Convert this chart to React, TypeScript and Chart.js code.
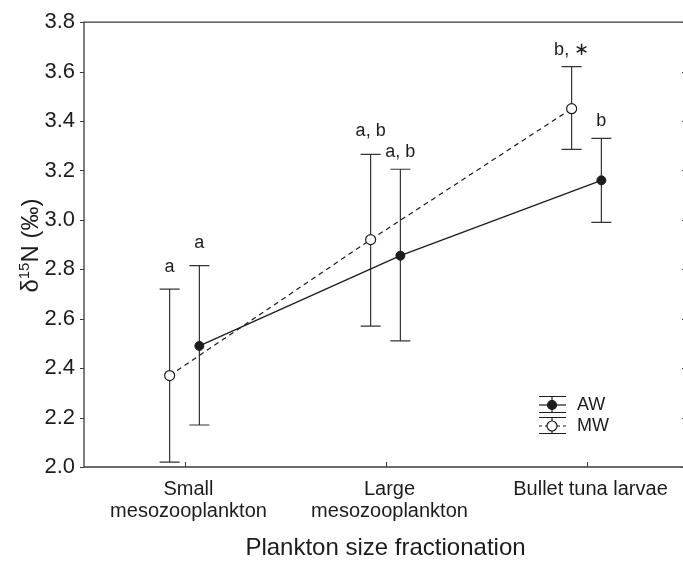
import React, { useEffect, useRef } from "react";
import { Chart, registerables } from "chart.js";

Chart.register(...registerables);

// ---- data ----
const categories: (string | string[])[] = [
  ["Small", "mesozooplankton"],
  ["Large", "mesozooplankton"],
  "Bullet tuna larvae",
];
const seriesNames = ["AW", "MW"];
const awMean = [2.49, 2.855, 3.16];
const awLow = [2.17, 2.51, 2.99];
const awHigh = [2.815, 3.205, 3.33];
const mwMean = [2.37, 2.92, 3.45];
const mwLow = [2.02, 2.57, 3.285];
const mwHigh = [2.72, 3.265, 3.62];
const awLetters = ["a", "a, b", "b"];
const mwLetters = ["a", "a, b", "b, \u2217"];
const yTickValues = [2.0, 2.2, 2.4, 2.6, 2.8, 3.0, 3.2, 3.4, 3.6, 3.8];
const xTitle = "Plankton size fractionation";

// ---- style ----
const FONT = "'Liberation Sans', Arial, Helvetica, sans-serif";
const INK = "#1c1c1c";
const AXIS = "#3a3a3a";
const DODGE = 0.074;
const CAP = 10;

const decor = {
  id: "decor",
  beforeDatasetsDraw(chart: any) {
    const { ctx } = chart;
    const x = chart.scales.x;
    const y = chart.scales.y;
    ctx.save();
    ctx.strokeStyle = "#333";
    ctx.lineWidth = 1.2;
    const bar = (xv: number, lo: number, hi: number) => {
      const px = x.getPixelForValue(xv);
      const pl = y.getPixelForValue(lo);
      const ph = y.getPixelForValue(hi);
      ctx.beginPath();
      ctx.moveTo(px, pl);
      ctx.lineTo(px, ph);
      ctx.moveTo(px - CAP, pl);
      ctx.lineTo(px + CAP, pl);
      ctx.moveTo(px - CAP, ph);
      ctx.lineTo(px + CAP, ph);
      ctx.stroke();
    };
    awMean.forEach((_, i) => bar(i + DODGE, awLow[i], awHigh[i]));
    mwMean.forEach((_, i) => bar(i - DODGE, mwLow[i], mwHigh[i]));
    ctx.restore();
  },
  afterDraw(chart: any) {
    const { ctx, chartArea: ca } = chart;
    const x = chart.scales.x;
    const y = chart.scales.y;
    ctx.save();
    // frame
    ctx.strokeStyle = AXIS;
    ctx.lineWidth = 1.3;
    ctx.beginPath();
    ctx.moveTo(ca.left, ca.top);
    ctx.lineTo(ca.left, ca.bottom);
    ctx.lineTo(ca.right, ca.bottom);
    ctx.lineTo(ca.right, ca.top);
    ctx.closePath();
    ctx.stroke();
    // ticks
    ctx.lineWidth = 1;
    ctx.beginPath();
    yTickValues.forEach((v) => {
      const py = Math.round(y.getPixelForValue(v)) + 0.5;
      ctx.moveTo(ca.left - 4, py);
      ctx.lineTo(ca.left, py);
      ctx.moveTo(ca.right - 5, py);
      ctx.lineTo(ca.right, py);
    });
    x.ticks.forEach((t: any) => {
      const px = Math.round(x.getPixelForValue(t.value)) + 0.5;
      ctx.moveTo(px, ca.bottom);
      ctx.lineTo(px, ca.bottom - 5);
    });
    ctx.stroke();

    // y title with superscript
    ctx.fillStyle = INK;
    ctx.translate(38, (ca.top + ca.bottom) / 2 + 1);
    ctx.rotate(-Math.PI / 2);
    ctx.textBaseline = "alphabetic";
    const big = `24px ${FONT}`;
    const small = `15px ${FONT}`;
    ctx.font = big;
    const w1 = ctx.measureText("\u03b4").width;
    const w3 = ctx.measureText("N (\u2030)").width;
    ctx.font = small;
    const w2 = ctx.measureText("15").width;
    let sx = -(w1 + w2 + w3) / 2;
    ctx.font = big;
    ctx.textAlign = "left";
    ctx.fillText("\u03b4", sx, 0);
    sx += w1;
    ctx.font = small;
    ctx.fillText("15", sx, -9);
    sx += w2;
    ctx.font = big;
    ctx.fillText("N (\u2030)", sx, 0);
    ctx.setTransform(1, 0, 0, 1, 0, 0);
    ctx.restore();

    // significance letters
    ctx.save();
    ctx.fillStyle = INK;
    ctx.font = `18px ${FONT}`;
    ctx.textAlign = "center";
    ctx.textBaseline = "alphabetic";
    const awGap = [18, 12, 12];
    const mwGap = [17, 18, 12];
    awLetters.forEach((t, i) => {
      ctx.fillText(t, x.getPixelForValue(i + DODGE), y.getPixelForValue(awHigh[i]) - awGap[i]);
    });
    mwLetters.forEach((t, i) => {
      ctx.fillText(t, x.getPixelForValue(i - DODGE), y.getPixelForValue(mwHigh[i]) - mwGap[i]);
    });

    // legend
    const lx = ca.right - 148;
    const cx = lx + 13;
    const rows = [ca.bottom - 62, ca.bottom - 41];
    ctx.strokeStyle = INK;
    ctx.lineWidth = 1.2;
    rows.forEach((ry, k) => {
      ctx.beginPath();
      ctx.moveTo(lx, ry - 8.5);
      ctx.lineTo(lx + 27, ry - 8.5);
      ctx.moveTo(lx, ry + 7.5);
      ctx.lineTo(lx + 27, ry + 7.5);
      ctx.moveTo(cx, ry - 8.5);
      ctx.lineTo(cx, ry + 7.5);
      ctx.stroke();
      ctx.beginPath();
      if (k === 1) ctx.setLineDash([3, 3]);
      ctx.moveTo(lx, ry);
      ctx.lineTo(lx + 27, ry);
      ctx.stroke();
      ctx.setLineDash([]);
      ctx.beginPath();
      ctx.arc(cx, ry, k === 0 ? 4.5 : 5, 0, Math.PI * 2);
      ctx.fillStyle = k === 0 ? INK : "#fff";
      ctx.fill();
      ctx.stroke();
      ctx.fillStyle = INK;
      ctx.font = `18px ${FONT}`;
      ctx.textAlign = "left";
      ctx.textBaseline = "middle";
      ctx.fillText(seriesNames[k], lx + 38, ry);
    });
    ctx.restore();
  },
};

export default function App() {
  const ref = useRef<HTMLCanvasElement | null>(null);
  useEffect(() => {
    if (!ref.current) return;
    const chart = new Chart(ref.current, {
      type: "line",
      data: {
        datasets: [
          {
            label: seriesNames[0],
            data: awMean.map((v, i) => ({ x: i + DODGE, y: v })),
            borderColor: INK,
            borderWidth: 1.3,
            pointRadius: 4.5,
            pointBackgroundColor: INK,
            pointBorderColor: INK,
            pointBorderWidth: 1,
            tension: 0,
            fill: false,
          },
          {
            label: seriesNames[1],
            data: mwMean.map((v, i) => ({ x: i - DODGE, y: v })),
            borderColor: INK,
            borderWidth: 1.2,
            borderDash: [5, 4],
            pointRadius: 5,
            pointBackgroundColor: "#ffffff",
            pointBorderColor: INK,
            pointBorderWidth: 1.2,
            tension: 0,
            fill: false,
          },
        ],
      },
      options: {
        animation: false,
        responsive: true,
        maintainAspectRatio: false,
        layout: { padding: { top: 18, right: 13, left: 0, bottom: 0 } },
        plugins: {
          legend: { display: false },
          tooltip: { enabled: false },
        },
        scales: {
          x: {
            type: "linear",
            min: -0.5,
            max: 2.5,
            grid: { display: false, drawTicks: false },
            border: { display: false },
            afterBuildTicks: (s: any) => {
              s.ticks = categories.map((_, i) => ({ value: i }));
            },
            afterFit: (s: any) => {
              s.height = 99;
            },
            ticks: {
              autoSkip: false,
              maxRotation: 0,
              padding: 11,
              labelOffset: 4,
              color: INK,
              font: { family: FONT, size: 20, lineHeight: 1.1 },
              callback: (_v: any, i: number) => categories[i],
            },
            title: {
              display: true,
              text: xTitle,
              color: INK,
              font: { family: FONT, size: 24 },
              padding: { top: 0, bottom: 3 },
            },
          },
          y: {
            type: "linear",
            min: 2.0,
            max: 3.8,
            grid: { display: false, drawTicks: false },
            border: { display: false },
            afterBuildTicks: (s: any) => {
              s.ticks = yTickValues.map((v) => ({ value: v }));
            },
            afterFit: (s: any) => {
              s.width = 84;
            },
            ticks: {
              padding: 9,
              color: INK,
              font: { family: FONT, size: 22 },
              callback: (v: any) => Number(v).toFixed(1),
            },
          },
        },
      } as any,
      plugins: [decor],
    });
    return () => chart.destroy();
  }, []);

  return (
    <div
      style={{
        position: "fixed",
        left: 0,
        top: 0,
        width: 683,
        height: 566,
        overflow: "hidden",
        background: "#ffffff",
      }}
    >
      <div style={{ position: "relative", width: 700, height: 566 }}>
        <canvas ref={ref} />
      </div>
    </div>
  );
}
